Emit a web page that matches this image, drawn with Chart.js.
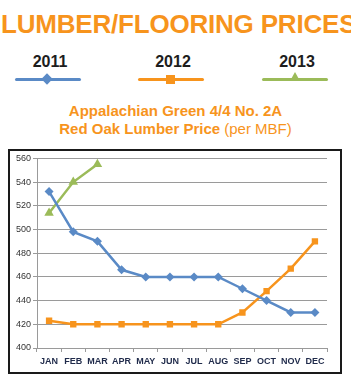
<!DOCTYPE html>
<html>
<head>
<meta charset="utf-8">
<script src="https://cdn.jsdelivr.net/npm/chart.js@4"></script>
<style>
  body { margin: 0; background: #fff; width: 351px; height: 383px; position: relative; overflow: hidden; font-family: "Liberation Sans", Arial, sans-serif; }
  #title { position: absolute; left: 0; top: 9px; width: 351px; text-align: left; padding-left: 1px;
           font-weight: bold; font-size: 26px; color: #F7941D; letter-spacing: -0.2px; white-space: nowrap; }
  .lg { position: absolute; top: 53px; width: 70px; text-align: center; }
  .lg .yr { font-weight: bold; font-size: 16px; color: #1d1d1d; }
  .lg .ln { position: absolute; left: 0; top: 25px; width: 66px; height: 3px; border-radius: 2px; }
  .lg .mk { position: absolute; }
  #sub { position: absolute; left: 0; top: 102px; width: 351px; text-align: center; color: #F7941D;
         font-weight: bold; font-size: 15px; line-height: 18px; }
  #sub span { font-weight: normal; }
  #box { position: absolute; left: 8px; top: 149px; width: 334px; height: 225px; box-sizing: border-box; border: 2px solid #1a1a1a; }
</style>
</head>
<body>
<div id="title">LUMBER/FLOORING PRICES</div>
<div id="legend"></div>
<div id="sub">Appalachian Green 4/4 No. 2A<br>Red Oak Lumber Price <span>(per MBF)</span></div>
<div id="box"><canvas id="grafica" width="330" height="221"></canvas></div>
<script>
var MESES = ["JAN", "FEB", "MAR", "APR", "MAY", "JUN", "JUL", "AUG", "SEP", "OCT", "NOV", "DEC"];
var SERIES = ["2011", "2012", "2013"];
var precios2011 = [532, 498, 490, 466, 460, 460, 460, 460, 450, 440, 430, 430];
var precios2012 = [423, 420, 420, 420, 420, 420, 420, 420, 430, 448, 467, 490];
var precios2013 = [514, 540, 555];
var COLORES = ["#5A8AC6", "#F7941D", "#9BBB59"];
var MARCAS = ["rectRot", "rect", "triangle"];
var Y_MIN = 400, Y_MAX = 560, Y_PASO = 20;

// leyenda en html
var posLeyenda = [15, 138, 262];
var leyenda = document.getElementById("legend");
SERIES.forEach(function (s, i) {
    var d = document.createElement("div");
    d.className = "lg";
    d.style.left = posLeyenda[i] + "px";
    var mk;
    if (i == 0) mk = '<div class="mk" style="left:28px;top:22px;width:8px;height:8px;background:' + COLORES[i] + ';transform:rotate(45deg)"></div>';
    else if (i == 1) mk = '<div class="mk" style="left:28px;top:22px;width:9px;height:9px;background:' + COLORES[i] + '"></div>';
    else mk = '<div class="mk" style="left:28px;top:19px;width:0;height:0;border-left:5px solid transparent;border-right:5px solid transparent;border-bottom:9px solid ' + COLORES[i] + '"></div>';
    d.innerHTML = '<div class="yr">' + s + '</div><div class="ln" style="background:' + COLORES[i] + '"></div>' + mk;
    leyenda.appendChild(d);
});

var fuenteEje = "'Liberation Sans Narrow', 'Liberation Sans', sans-serif";

function serie(label, datos, i, radio) {
    return {
        label: label,
        data: datos,
        borderColor: COLORES[i],
        backgroundColor: COLORES[i],
        borderWidth: 2.5,
        pointStyle: MARCAS[i],
        pointRadius: radio,
        pointBorderWidth: 0,
        tension: 0
    };
}

var ctx = document.getElementById("grafica").getContext("2d");
var grafica = new Chart(ctx, {
    type: "line",
    data: {
        labels: MESES,
        datasets: [
            serie(SERIES[0], precios2011, 0, 4.5),
            serie(SERIES[1], precios2012, 1, 4.5),
            serie(SERIES[2], precios2013, 2, 5.5)
        ]
    },
    options: {
        responsive: false,
        animation: false,
        layout: { padding: { top: 5, right: 13, left: 0, bottom: 0 } },
        plugins: { legend: { display: false }, tooltip: { enabled: false } },
        scales: {
            y: {
                min: Y_MIN,
                max: Y_MAX,
                afterFit: function (scale) { scale.width = 27; },
                ticks: {
                    stepSize: Y_PASO,
                    color: "#333",
                    padding: 2,
                    font: { family: fuenteEje, size: 9 }
                },
                grid: { color: "#9a9a9a", lineWidth: 1, tickLength: 4 },
                border: { color: "#9a9a9a" }
            },
            x: {
                offset: true,
                afterFit: function (scale) { scale.height = 24; },
                ticks: {
                    color: "#1f2a4a",
                    padding: 4,
                    maxRotation: 0,
                    autoSkip: false,
                    font: { family: fuenteEje, size: 9, weight: "bold" }
                },
                grid: { offset: true, drawOnChartArea: false, color: "#9a9a9a", tickLength: 4 },
                border: { color: "#9a9a9a" }
            }
        }
    }
});
</script>
</body>
</html>
